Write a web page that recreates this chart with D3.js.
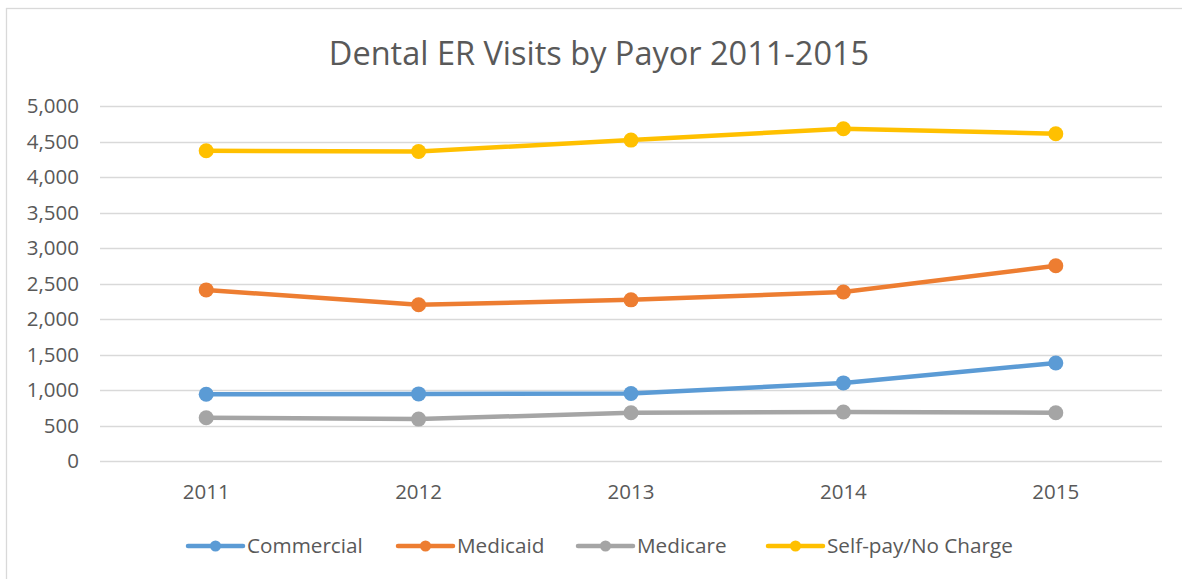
<!DOCTYPE html>
<html>
<head>
<meta charset="utf-8">
<script src="https://cdn.jsdelivr.net/npm/d3@7"></script>
<style>
  body { margin: 0; background: #fff; }
  svg { display: block; font-family: "Open Sans", sans-serif; }
  .grid line { stroke: #d9d9d9; stroke-width: 1.3; }
  .tick-label { fill: #595959; font-size: 20.5px; }
  .legend-label { fill: #595959; font-size: 20.7px; }
</style>
</head>
<body>
<div class="wrapper"></div>
<script>
var years = ["2011", "2012", "2013", "2014", "2015"];
var seriesNames = ["Commercial", "Medicaid", "Medicare", "Self-pay/No Charge"];
var commercial = [940, 945, 950, 1100, 1380];
var medicaid = [2410, 2200, 2270, 2380, 2750];
var medicare = [610, 590, 680, 690, 680];
var selfPay = [4370, 4360, 4520, 4680, 4610];
var yTicks = [0, 500, 1000, 1500, 2000, 2500, 3000, 3500, 4000, 4500, 5000];
var colors = ["#5B9BD5", "#ED7D31", "#A5A5A5", "#FFC000"];

var width = 1182, height = 579;
var plot = { left: 100, right: 1162, top: 106, bottom: 461 };

var series = [commercial, medicaid, medicare, selfPay].map(function(values, i) {
  return { name: seriesNames[i], color: colors[i], values: values };
});

var svg = d3.select(".wrapper").append("svg")
  .attr("width", width)
  .attr("height", height);

// chart frame (only left and top edges are in view)
svg.append("rect")
  .attr("x", 6.5).attr("y", 8.5)
  .attr("width", width + 10).attr("height", height + 10)
  .attr("fill", "#fff")
  .attr("stroke", "#d9d9d9")
  .attr("stroke-width", 1.3);

var x = d3.scalePoint().domain(years).range([plot.left, plot.right]).padding(0.5);
var y = d3.scaleLinear().domain([0, 5000]).range([plot.bottom, plot.top]);

svg.append("text")
  .attr("x", 599)
  .attr("y", 65)
  .attr("text-anchor", "middle")
  .attr("fill", "#595959")
  .style("font-size", "32.5px")
  .text("Dental ER Visits by Payor 2011-2015");

var grid = svg.append("g").attr("class", "grid");
grid.selectAll("line")
  .data(yTicks)
  .enter().append("line")
  .attr("x1", plot.left).attr("x2", plot.right)
  .attr("y1", function(d) { return Math.round(y(d)) + 0.5; })
  .attr("y2", function(d) { return Math.round(y(d)) + 0.5; });

svg.append("g").selectAll("text")
  .data(yTicks)
  .enter().append("text")
  .attr("class", "tick-label")
  .attr("x", 79)
  .attr("y", function(d) { return y(d); })
  .attr("dy", "0.36em")
  .attr("text-anchor", "end")
  .text(d3.format(","));

svg.append("g").selectAll("text")
  .data(years)
  .enter().append("text")
  .attr("class", "tick-label")
  .attr("x", function(d) { return x(d); })
  .attr("y", 499)
  .attr("text-anchor", "middle")
  .text(function(d) { return d; });

var line = d3.line()
  .x(function(d, i) { return x(years[i]); })
  .y(function(d) { return y(d); });

var lines = svg.append("g");
series.forEach(function(s) {
  var sg = lines.append("g");
  sg.append("path")
    .datum(s.values)
    .attr("fill", "none")
    .attr("stroke", s.color)
    .attr("stroke-width", 4.5)
    .attr("stroke-linejoin", "round")
    .attr("d", line);
  sg.selectAll("circle")
    .data(s.values)
    .enter().append("circle")
    .attr("cx", function(d, i) { return x(years[i]); })
    .attr("cy", function(d) { return y(d); })
    .attr("r", 7.5)
    .attr("fill", s.color);
});

// legend
var legendX = [188, 398, 578, 768];
var legend = svg.append("g");
series.forEach(function(s, i) {
  var lg = legend.append("g").attr("transform", "translate(" + legendX[i] + ",546)");
  lg.append("line")
    .attr("x1", 0).attr("x2", 55)
    .attr("stroke", s.color)
    .attr("stroke-width", 4.5)
    .attr("stroke-linecap", "round");
  lg.append("circle").attr("cx", 27.5).attr("r", 5.5).attr("fill", s.color);
  lg.append("text")
    .attr("class", "legend-label")
    .attr("x", 59)
    .attr("dy", "0.36em")
    .text(s.name);
});
</script>
</body>
</html>
